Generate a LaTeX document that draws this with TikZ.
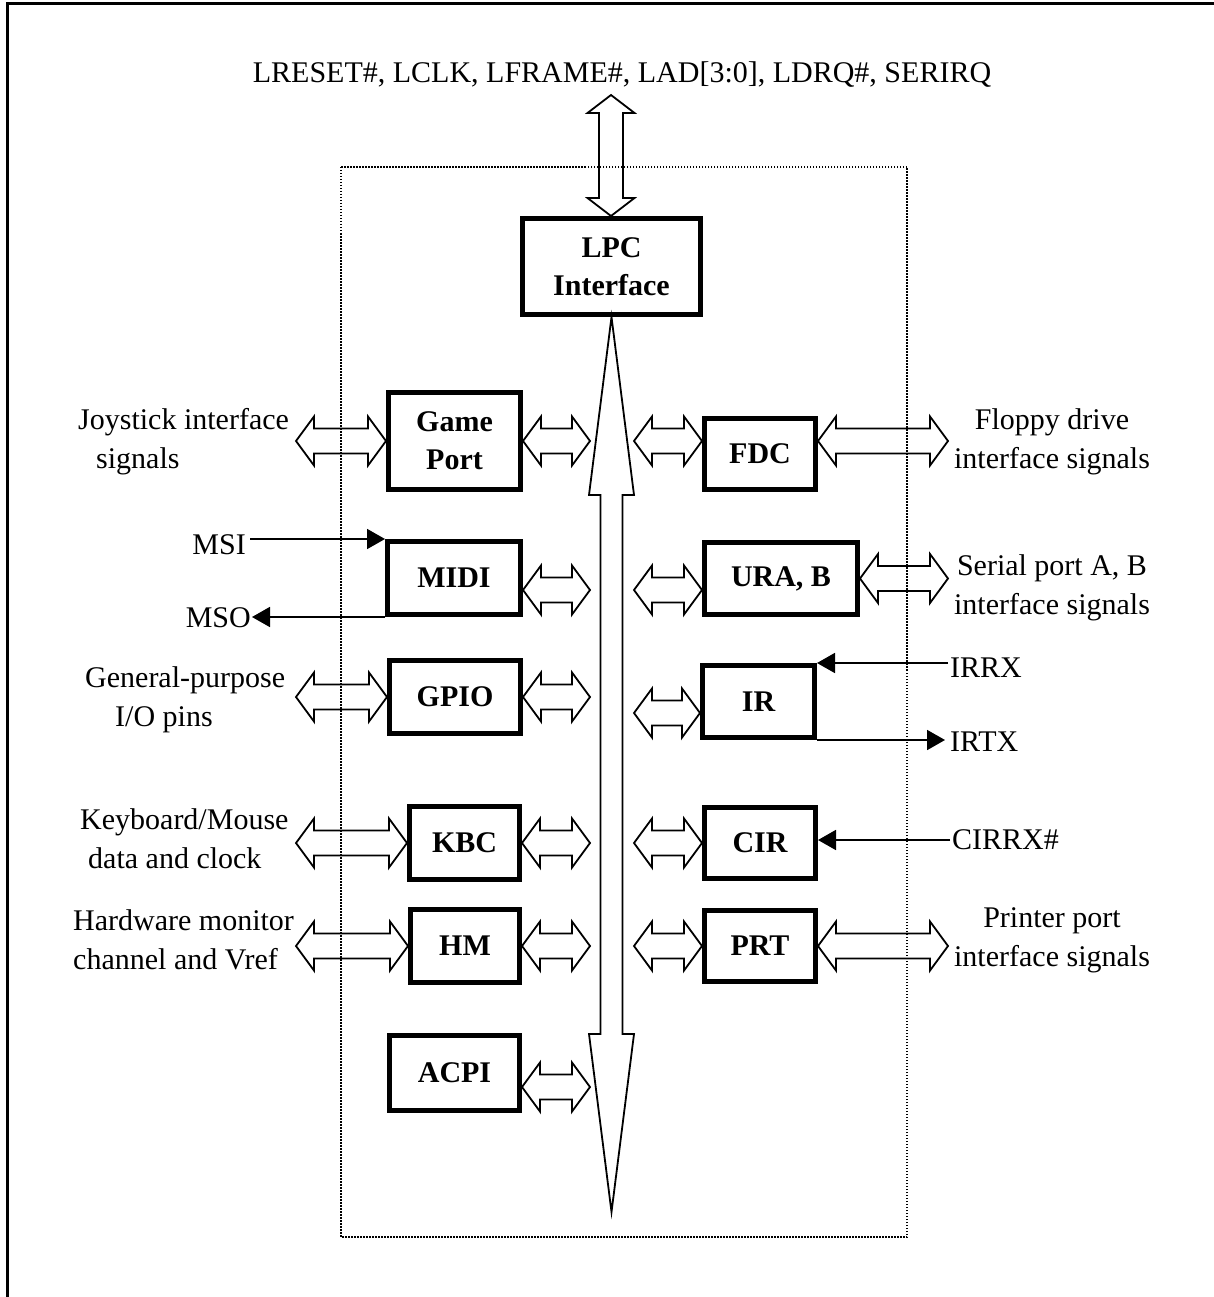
\documentclass[tikz,border=0pt]{standalone}
\usepackage{fontspec}
\setmainfont{Liberation Serif}
\usetikzlibrary{positioning,arrows.meta,calc}

% hollow double arrows: horizontal (y taken from the first point) and vertical
\newcommand{\dblh}[2]{%
  \draw[hollow] let \p1=#1, \p2=#2, \n1={18*(\x2-\x1)/abs(\x2-\x1)} in
    (\x1,\y1) -- ({\x1+\n1},{\y1+24.5}) -- ({\x1+\n1},{\y1+12.5}) -- ({\x2-\n1},{\y1+12.5})
    -- ({\x2-\n1},{\y1+24.5}) -- (\x2,\y1) -- ({\x2-\n1},{\y1-24.5}) -- ({\x2-\n1},{\y1-12.5})
    -- ({\x1+\n1},{\y1-12.5}) -- ({\x1+\n1},{\y1-24.5}) -- cycle;}
\newcommand{\dblv}[5]{%
  \draw[hollow] let \p1=#1, \p2=#2 in
    (\x1,\y1) -- (\x1-#4,\y1-#3) -- (\x1-#5,\y1-#3) -- (\x1-#5,\y2+#3) -- (\x1-#4,\y2+#3)
    -- (\x1,\y2) -- (\x1+#4,\y2+#3) -- (\x1+#5,\y2+#3) -- (\x1+#5,\y1-#3) -- (\x1+#4,\y1-#3) -- cycle;}

\begin{document}
\begin{tikzpicture}[
  x=1pt, y=-1pt,
  every node/.style={font=\fontsize{30}{39}\selectfont, inner sep=0pt},
  blk/.style={draw, line width=5pt, font=\fontsize{30}{38}\selectfont\bfseries, align=center},
  lbl/.style={align=center},
  hollow/.style={draw, line width=1.8pt, line join=miter},
  sig/.style={-{Triangle[length=18pt,width=20pt]}, line width=1.8pt}
]
\useasboundingbox (0,0) rectangle (1214,1297);

% frame and chip outline
\draw[line width=3pt] (7,1297) -- (7,4) -- (1214,4);
\draw[line width=1.5pt, dash pattern=on 1.5pt off 1.5pt] (341,167) rectangle (907,1237);

% blocks
\node[blk, minimum width=178pt, minimum height=96pt] (lpc) at (611.5,266.5) {LPC\\Interface};
\node[blk, minimum width=132pt, minimum height=97pt] (gport) at (454.5,441) {Game\\Port};
\node[blk, minimum width=133pt, minimum height=73pt] (midi) at (454,578) {MIDI};
\node[blk, minimum width=131pt, minimum height=73pt] (gpio) at (455,697) {GPIO};
\node[blk, minimum width=110pt, minimum height=73pt] (kbc) at (464.5,843) {KBC};
\node[blk, minimum width=109pt, minimum height=73pt] (hm) at (465,946) {HM};
\node[blk, minimum width=130pt, minimum height=75pt] (acpi) at (454.5,1073) {ACPI};
\node[blk, minimum width=111pt, minimum height=71pt] (fdc) at (760,454) {FDC};
\node[blk, minimum width=153pt, minimum height=72pt] (ura) at (781,578.5) {URA, B};
\node[blk, minimum width=112pt, minimum height=72pt] (ir) at (758.5,701.5) {IR};
\node[blk, minimum width=111pt, minimum height=71pt] (cir) at (760,843) {CIR};
\node[blk, minimum width=111pt, minimum height=71pt] (prt) at (760,946) {PRT};

% signal texts
\node[lbl] (title) at (622,75) {LRESET\#, LCLK, LFRAME\#, LAD[3:0], LDRQ\#, SERIRQ};
\node[anchor=west, align=left] (joyl) at (78,442) {Joystick interface\\\hspace*{18pt}signals};
\node[anchor=west, align=left] (gpiol) at (85,700) {General-purpose\\\hspace*{30pt}I/O pins};
\node[anchor=west, align=left] (kbcl) at (80,839) {Keyboard/Mouse\\\hspace*{8pt}data and clock};
\node[anchor=west, align=left] (hml) at (73,940) {Hardware monitor\\channel and Vref};
\node[lbl] (fdcl) at (1052,442) {Floppy drive\\interface signals};
\node[lbl] (ural) at (1052,588) {Serial port A, B\\interface signals};
\node[lbl] (prtl) at (1052,940) {Printer port\\interface signals};
\node[anchor=east, inner xsep=4pt] (msi) at (250,545) {MSI};
\node[anchor=east, inner xsep=1pt] (mso) at (252,618) {MSO};
\node[anchor=west, inner xsep=2pt] (irrx) at (948,668) {IRRX};
\node[anchor=west, inner xsep=5pt] (irtx) at (945,742) {IRTX};
\node[anchor=west, inner xsep=2pt] (cirrx) at (950,840) {CIRRX\#};

% bus ends
\coordinate (busl) at (590,0);
\coordinate (busr) at (634,0);
\coordinate (outl) at (296,0);
\coordinate (outr) at (948,0);
\coordinate (sigtop) at (611,95);
\coordinate (busend) at (612,1212);

% LPC bus
\dblv{(sigtop)}{(lpc.north)}{18}{23.5}{12}
\dblv{(lpc.south)}{(busend)}{178}{22.5}{11}

% left side
\dblh{(gport.west)}{(outl)}
\dblh{(gport.east)}{(busl)}
\dblh{([yshift=-12pt]midi.east)}{(busl)}
\dblh{(gpio.west)}{(outl)}
\dblh{(gpio.east)}{(busl)}
\dblh{(kbc.west)}{(outl)}
\dblh{(kbc.east)}{(busl)}
\dblh{(hm.west)}{(outl)}
\dblh{(hm.east)}{(busl)}
\dblh{([yshift=-14pt]acpi.east)}{(busl)}

% right side
\dblh{([yshift=13pt]fdc.west)}{(busr)}
\dblh{([yshift=13pt]fdc.east)}{(outr)}
\dblh{([yshift=-11.5pt]ura.west)}{(busr)}
\dblh{(ura.east)}{(outr)}
\dblh{([yshift=-11.5pt]ir.west)}{(busr)}
\dblh{(cir.west)}{(busr)}
\dblh{(prt.west)}{(busr)}
\dblh{(prt.east)}{(outr)}

% single signals
\draw[sig] (msi.east |- midi.north west) -- (midi.north west);
\draw[sig] (midi.south west) -- (midi.south west -| mso.east);
\draw[sig] (irrx.west |- ir.north east) -- (ir.north east);
\draw[sig] (ir.south east) -- (ir.south east -| irtx.west);
\draw[sig] (cirrx.west) -- (cirrx.west -| cir.east);
\end{tikzpicture}
\end{document}
